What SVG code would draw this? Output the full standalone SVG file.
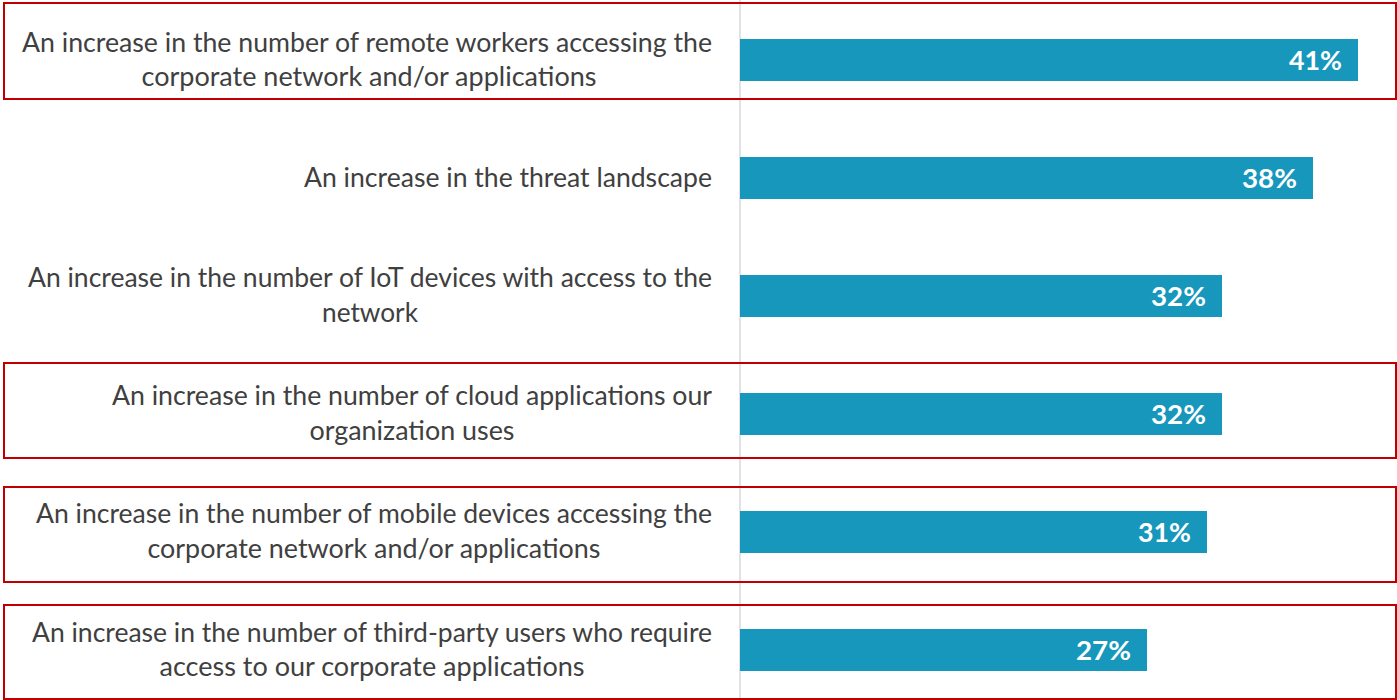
<svg xmlns="http://www.w3.org/2000/svg" width="1397" height="700" viewBox="0 0 1397 700">
<style>
.bg{fill:#ffffff}
.grid{stroke:#d9d9d9;stroke-width:1.5}
.hl{fill:none;stroke:#c00000;stroke-width:2}
.bar{fill:#1797bc}
.lbl{font-family:"Source Sans Pro","Lato","Noto Sans",sans-serif;font-size:26px;fill:#404040}
.val{font-family:"Source Sans Pro","Lato","Noto Sans",sans-serif;font-size:27px;font-weight:bold;fill:#ffffff;text-anchor:end}
.m{text-anchor:middle}
.e{text-anchor:end}
</style>
<rect class="bg" x="0" y="0" width="1397" height="700"/>
<g id="axis">
<line class="grid" x1="740" y1="0" x2="740" y2="700"/>
</g>
<g id="highlights">
<rect class="hl" x="4" y="3" width="1392" height="96"/>
<rect class="hl" x="4" y="363" width="1392" height="95"/>
<rect class="hl" x="4" y="487" width="1392" height="95"/>
<rect class="hl" x="4" y="605" width="1392" height="94"/>
</g>
<g id="row1">
<rect class="bar" x="740" y="39" width="618" height="42"/>
<text class="val" x="1342" y="70" textLength="53" lengthAdjust="spacingAndGlyphs">41%</text>
<text class="lbl m" x="367" y="52" textLength="690" lengthAdjust="spacingAndGlyphs">An increase in the number of remote workers accessing the</text>
<text class="lbl m" x="369" y="86" textLength="455" lengthAdjust="spacingAndGlyphs">corporate network and/or applications</text>
</g>
<g id="row2">
<rect class="bar" x="740" y="157" width="573" height="42"/>
<text class="val" x="1297" y="188" textLength="55" lengthAdjust="spacingAndGlyphs">38%</text>
<text class="lbl e" x="712" y="187" textLength="408" lengthAdjust="spacingAndGlyphs">An increase in the threat landscape</text>
</g>
<g id="row3">
<rect class="bar" x="740" y="275" width="482" height="42"/>
<text class="val" x="1206" y="306" textLength="55" lengthAdjust="spacingAndGlyphs">32%</text>
<text class="lbl m" x="370" y="287" textLength="684" lengthAdjust="spacingAndGlyphs">An increase in the number of IoT devices with access to the</text>
<text class="lbl m" x="370" y="322" textLength="96" lengthAdjust="spacingAndGlyphs">network</text>
</g>
<g id="row4">
<rect class="bar" x="740" y="393" width="482" height="42"/>
<text class="val" x="1206" y="424" textLength="55" lengthAdjust="spacingAndGlyphs">32%</text>
<text class="lbl m" x="412" y="405" textLength="600" lengthAdjust="spacingAndGlyphs">An increase in the number of cloud applications our</text>
<text class="lbl m" x="412" y="440" textLength="205" lengthAdjust="spacingAndGlyphs">organization uses</text>
</g>
<g id="row5">
<rect class="bar" x="740" y="511" width="467" height="42"/>
<text class="val" x="1191" y="542" textLength="53" lengthAdjust="spacingAndGlyphs">31%</text>
<text class="lbl m" x="374" y="523" textLength="676" lengthAdjust="spacingAndGlyphs">An increase in the number of mobile devices accessing the</text>
<text class="lbl m" x="374" y="558" textLength="453" lengthAdjust="spacingAndGlyphs">corporate network and/or applications</text>
</g>
<g id="row6">
<rect class="bar" x="740" y="629" width="407" height="42"/>
<text class="val" x="1131" y="660" textLength="55" lengthAdjust="spacingAndGlyphs">27%</text>
<text class="lbl m" x="372" y="642" textLength="680" lengthAdjust="spacingAndGlyphs">An increase in the number of third-party users who require</text>
<text class="lbl m" x="372" y="676" textLength="425" lengthAdjust="spacingAndGlyphs">access to our corporate applications</text>
</g>
</svg>
